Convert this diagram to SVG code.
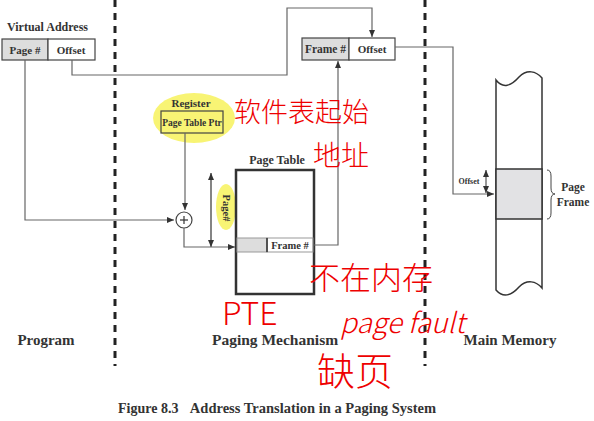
<svg xmlns="http://www.w3.org/2000/svg" width="594" height="421" viewBox="0 0 594 421">
<defs>
<style>
.t{font-family:"Liberation Serif",serif;font-weight:bold;fill:#333}
.box{fill:#fff;stroke:#444;stroke-width:1.2}
.gbox{fill:#ddd;stroke:#444;stroke-width:1.2}
.ln{fill:none;stroke:#666;stroke-width:1.2}
.dash{stroke:#222;stroke-width:3;stroke-dasharray:7,6}
.hl{fill:#f5f046;opacity:0.75}
.hw{font-family:"Noto Sans CJK SC","Liberation Sans",sans-serif;fill:#e00;font-weight:300}
</style>
<marker id="ah" markerWidth="8" markerHeight="8" refX="7" refY="4" orient="auto" markerUnits="userSpaceOnUse">
<path d="M0,1 L7,4 L0,7 Z" fill="#333"/>
</marker>
<marker id="as" markerWidth="8" markerHeight="8" refX="7" refY="4" orient="auto-start-reverse" markerUnits="userSpaceOnUse">
<path d="M0,1 L7,4 L0,7 Z" fill="#333"/>
</marker>
</defs>
<rect width="594" height="421" fill="#fff"/>

<g id="separators">
<line class="dash" x1="115" y1="0" x2="115" y2="366"/>
<line class="dash" x1="425" y1="0" x2="425" y2="366"/>
</g>

<g id="highlights">
<ellipse class="hl" cx="194" cy="118" rx="41" ry="25"/>
<ellipse class="hl" cx="226" cy="207" rx="10" ry="23"/>
<ellipse class="hl" cx="285" cy="246" rx="30" ry="12"/>
</g>

<g id="virtual-address">
<text class="t" x="7" y="31" font-size="12">Virtual Address</text>
<rect class="gbox" x="2" y="39" width="46" height="21"/>
<rect class="box" x="48" y="39" width="47" height="21"/>
<text class="t" x="25" y="53.5" font-size="11" text-anchor="middle">Page #</text>
<text class="t" x="71" y="53.5" font-size="11" text-anchor="middle">Offset</text>
</g>

<g id="register">
<text class="t" x="191" y="107" font-size="11" text-anchor="middle">Register</text>
<rect x="161" y="111" width="62" height="22" fill="none" stroke="#444" stroke-width="1.2"/>
<text class="t" x="192" y="126" font-size="9.5" text-anchor="middle">Page Table Ptr</text>
</g>

<g id="adder">
<circle cx="184" cy="220" r="8" fill="#fff" stroke="#444" stroke-width="1.2"/>
<line x1="180" y1="220" x2="188" y2="220" stroke="#333" stroke-width="1.2"/>
<line x1="184" y1="216" x2="184" y2="224" stroke="#333" stroke-width="1.2"/>
</g>

<g id="page-table">
<text class="t" x="277" y="164" font-size="12" text-anchor="middle">Page Table</text>
<rect x="236" y="170" width="78" height="124" fill="#fff" stroke="#333" stroke-width="2.5"/>
<rect x="237" y="238" width="30" height="14" fill="#ddd" stroke="#999" stroke-width="1"/>
<rect x="267" y="238" width="46" height="14" fill="none" stroke="#999" stroke-width="1"/>
<line x1="267" y1="238" x2="267" y2="252" stroke="#333" stroke-width="1.5"/>
<text class="t" x="290" y="249" font-size="10.5" text-anchor="middle">Frame #</text>
<line x1="211" y1="173" x2="211" y2="247" stroke="#333" stroke-width="1.2" marker-start="url(#as)" marker-end="url(#as)"/>
<text class="t" x="0" y="0" font-size="10.5" text-anchor="middle" transform="translate(222.5,208) rotate(90)">Page#</text>
</g>

<g id="physical-address">
<rect class="gbox" x="302" y="38" width="47" height="22"/>
<rect class="box" x="349" y="38" width="46" height="22"/>
<text class="t" x="325.5" y="53" font-size="11.5" text-anchor="middle">Frame #</text>
<text class="t" x="372" y="53" font-size="11" text-anchor="middle">Offset</text>
</g>

<g id="main-memory">
<path d="M496,80 C503,89 511,86 519,77 C527,69 536,71 542,78 L542,288 C536,281 527,279 519,287 C511,296 503,298 496,290 Z" fill="#fff" stroke="#333" stroke-width="1.5"/>
<rect x="496" y="169" width="46" height="50" fill="#e2e2e4" stroke="#333" stroke-width="1.5"/>
<path d="M547,170 Q551,170 551,176 L551,188 Q551,194 555,194 Q551,194 551,200 L551,213 Q551,219 547,219" fill="none" stroke="#444" stroke-width="1"/>
<text class="t" x="573" y="191" font-size="11.5" text-anchor="middle">Page</text>
<text class="t" x="573" y="206" font-size="11.5" text-anchor="middle">Frame</text>
<line x1="486" y1="170" x2="486" y2="193" stroke="#333" stroke-width="1" marker-start="url(#as)" marker-end="url(#as)"/>
<text class="t" x="469" y="184" font-size="8" text-anchor="middle">Offset</text>
</g>

<g id="connectors">
<polyline class="ln" points="25,60 25,220 174,220" marker-end="url(#ah)"/>
<polyline class="ln" points="185,133 185,210" marker-end="url(#ah)"/>
<polyline class="ln" points="184,228 184,247 235,247" marker-end="url(#ah)"/>
<polyline class="ln" points="72,60 72,75 287,75 287,8 372,8 372,37" marker-end="url(#ah)"/>
<polyline class="ln" points="314,245 338,245 338,61" marker-end="url(#ah)"/>
<polyline class="ln" points="395,47 453,47 453,194 494,194" marker-end="url(#ah)"/>
</g>

<g id="labels">
<text class="t" x="46" y="345" font-size="15" text-anchor="middle">Program</text>
<text class="t" x="275" y="345" font-size="15.5" text-anchor="middle">Paging Mechanism</text>
<text class="t" x="510" y="345" font-size="15" text-anchor="middle">Main Memory</text>
<text class="t" x="118" y="413" font-size="14">Figure 8.3</text>
<text class="t" x="436" y="413" font-size="14.5" text-anchor="end">Address Translation in a Paging System</text>
</g>

<g id="annotations">
<text class="hw" x="234" y="122" font-size="27">软件表起始</text>
<text class="hw" x="313" y="166" font-size="28">地址</text>
<text class="hw" x="309" y="289" font-size="31">不在内存</text>
<text class="hw" x="222" y="325" font-size="32">PTE</text>
<text class="hw" x="340" y="333" font-size="28" font-style="italic">page fault</text>
<text class="hw" x="317" y="385" font-size="38">缺页</text>
</g>
</svg>
